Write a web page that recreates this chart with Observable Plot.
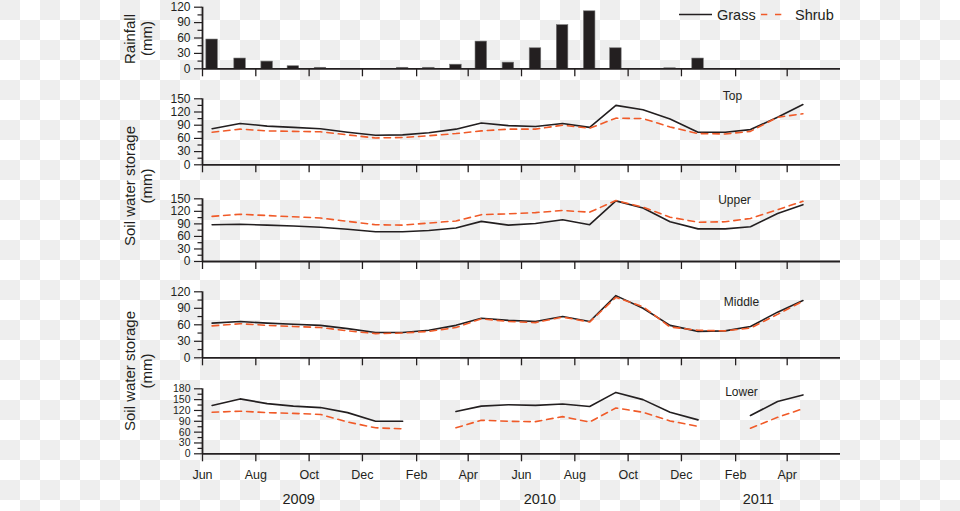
<!DOCTYPE html>
<html>
<head>
<meta charset="utf-8">
<script src="https://cdn.jsdelivr.net/npm/d3@7"></script>
<script src="https://cdn.jsdelivr.net/npm/@observablehq/plot@0.6"></script>
<style>
html, body { margin: 0; padding: 0; }
body {
  width: 960px; height: 511px; overflow: hidden;
  background-color: #fff;
  background-image: conic-gradient(#fff 0 25%, #eee 0 50%, #fff 0 75%, #eee 0);
  background-size: 40px 40px;
  font-family: "Liberation Sans", Arial, sans-serif;
  color: #231f20;
}
#chart { position: relative; width: 960px; height: 511px; }
#overlay { position: absolute; left: 0; top: 0; overflow: visible; }
#overlay text { font-family: "Liberation Sans", Arial, sans-serif; fill: #231f20; }
</style>
</head>
<body>
<div id="chart">
<svg id="overlay" width="960" height="511">
  <text transform="translate(134.5,39) rotate(-90)" text-anchor="middle" font-size="15">Rainfall</text>
  <text transform="translate(152,38.5) rotate(-90)" text-anchor="middle" font-size="15">(mm)</text>
  <text transform="translate(134.5,186) rotate(-90)" text-anchor="middle" font-size="15">Soil water storage</text>
  <text transform="translate(152,186) rotate(-90)" text-anchor="middle" font-size="15">(mm)</text>
  <text transform="translate(134.5,371) rotate(-90)" text-anchor="middle" font-size="15">Soil water storage</text>
  <text transform="translate(152,371) rotate(-90)" text-anchor="middle" font-size="15">(mm)</text>
  <line x1="679" x2="712" y1="14.5" y2="14.5" stroke="#231f20" stroke-width="1.6"></line>
  <text x="717" y="19.5" font-size="14.5">Grass</text>
  <line x1="761" x2="782" y1="14.5" y2="14.5" stroke="#f05a28" stroke-width="1.6" stroke-dasharray="6.3,7.7"></line>
  <text x="795" y="19.5" font-size="14.5">Shrub</text>
</svg>
</div>
<script>
// ---- data ----
const sampleDates = ["2009-06-12","2009-07-14","2009-08-14","2009-09-13","2009-10-14","2009-11-14","2009-12-16",
  "2010-01-16","2010-02-15","2010-03-18","2010-04-16","2010-05-17","2010-06-17","2010-07-18","2010-08-18",
  "2010-09-17","2010-10-18","2010-11-18","2010-12-20","2011-01-20","2011-02-18","2011-03-21","2011-04-19"];
const rainfall   = [57,20,14,5,2,0,0,2,2,8,53,12,40,85,112,40,0,1,20,0,0,0,0];
const topGrass   = [82,94,88,85,82,74,67,68,73,81,95,89,87,94,85,135,125,104,74,74,80,108,137];
const topShrub   = [74,81,77,76,75,68,61,62,66,71,77,81,81,90,83,106,105,86,71,70,76,108,116];
const upperGrass = [88,89,87,85,82,77,71,71,74,80,96,87,91,100,88,145,128,95,78,78,83,115,136];
const upperShrub = [108,113,110,107,104,96,88,87,92,97,112,114,117,122,118,146,130,106,94,95,103,124,144];
const middleGrass = [63,66,63,61,59,53,46,46,50,59,72,68,66,75,66,113,90,59,48,49,57,83,104];
const middleShrub = [58,62,59,57,55,49,44,45,48,55,71,66,64,74,65,110,93,56,50,49,54,79,103];
const lowerGrass = [134,152,139,132,128,114,90,90,null,117,132,136,134,138,131,170,150,115,94,null,106,145,163];
const lowerShrub = [115,118,114,112,109,88,72,69,null,72,93,90,89,103,88,127,115,91,76,null,71,101,125];
const panelNames = ["Top","Upper","Middle","Lower"];
const yearLabels = ["2009","2010","2011"];
const yearDates  = ["2009-09-19","2010-06-22","2011-02-27"];
const xDomain = ["2009-06-01","2011-06-01"];

// ---- drawing ----
const ink = "#231f20", orange = "#f05a28";
const font = "'Liberation Sans', Arial, sans-serif";
const x0 = new Date(xDomain[0]), x1 = new Date(xDomain[1]);
const monthTicks = d3.utcMonth.range(x0, x1, 2);
const dates = sampleDates.map(d => new Date(d));
const chart = document.getElementById("chart");
const halfBar = 6.6 * 864e5;

function seriesRows(g, s) {
  return dates.map((d, i) => ({date: d, grass: g[i] ?? NaN, shrub: s[i] ?? NaN}));
}
function range(a, b, s) { const r = []; for (let v = a; v <= b + 1e-9; v += s) r.push(v); return r; }

function panel({top, height, marginTop, marginBottom, yMax, marks, last, tickFont = 12}) {
  const major = range(0, yMax, 30);
  const minor = range(15, yMax, 30);
  const svg = Plot.plot({
    width: 960, height, marginLeft: 202, marginRight: 120, marginTop, marginBottom,
    x: {type: "utc", domain: [x0, x1]},
    y: {domain: [0, yMax]},
    style: {position: "absolute", left: "0px", top: top + "px", background: "transparent",
            overflow: "visible", color: ink, fontFamily: font, fontSize: "12px"},
    marks: [
      ...marks,
      Plot.axisY({ticks: major, tickSize: 8, tickPadding: 4, label: null, fontSize: tickFont, strokeWidth: 1.2}),
      Plot.axisY({ticks: minor, tickSize: 4.5, tickFormat: () => "", label: null, strokeWidth: 1.2}),
      Plot.axisX({ticks: monthTicks, tickSize: 8, tickPadding: 8, label: null, fontSize: 12.5, strokeWidth: 1.3,
                  tickFormat: last ? d3.utcFormat("%b") : () => ""}),
      Plot.ruleY([0], {stroke: ink, strokeWidth: 1.8}),
      Plot.ruleX([x0], {stroke: ink, strokeWidth: 1.8})
    ]
  });
  chart.insertBefore(svg, document.getElementById("overlay"));
}

function lineMarks(rows, name, dx, dy) {
  return [
    Plot.line(rows, {x: "date", y: "grass", stroke: ink, strokeWidth: 1.6}),
    Plot.line(rows, {x: "date", y: "shrub", stroke: orange, strokeWidth: 1.6, strokeDasharray: "6.5,5"}),
    Plot.text([name], {text: d => d, frameAnchor: "top-right", dx, dy, textAnchor: "middle",
                       lineAnchor: "middle", fontSize: 12, fill: ink})
  ];
}

// Rainfall
const rainRows = dates.map((d, i) => ({date: d, r: rainfall[i]})).filter(d => d.r > 0);
panel({top: 0, height: 80, marginTop: 6.7, marginBottom: 11.7, yMax: 120, marks: [
  Plot.rectY(rainRows, {x1: d => new Date(+d.date - halfBar), x2: d => new Date(+d.date + halfBar),
                        y: "r", fill: ink, stroke: "#777", strokeWidth: 0.6})
]});
// Top
panel({top: 88, height: 88, marginTop: 10.3, marginBottom: 11.7, yMax: 150,
  marks: lineMarks(seriesRows(topGrass, topShrub), panelNames[0], -108, -3)});
// Upper
panel({top: 188, height: 85, marginTop: 10.3, marginBottom: 12, yMax: 150,
  marks: lineMarks(seriesRows(upperGrass, upperShrub), panelNames[1], -106, 1)});
// Middle
panel({top: 281, height: 88, marginTop: 10.3, marginBottom: 11.7, yMax: 120,
  marks: lineMarks(seriesRows(middleGrass, middleShrub), panelNames[2], -99, 10.5)});
// Lower
panel({top: 378, height: 133, marginTop: 10.3, marginBottom: 57.7, yMax: 180, last: true, tickFont: 10.5,
  marks: [
    ...lineMarks(seriesRows(lowerGrass, lowerShrub), panelNames[3], -99, 3.5),
    Plot.text(yearLabels.map((t, i) => ({t, date: new Date(yearDates[i])})),
      {x: "date", text: "t", frameAnchor: "bottom", dy: 45.5, lineAnchor: "middle", fontSize: 14.5, fill: ink})
  ]});
</script>
</body>
</html>
